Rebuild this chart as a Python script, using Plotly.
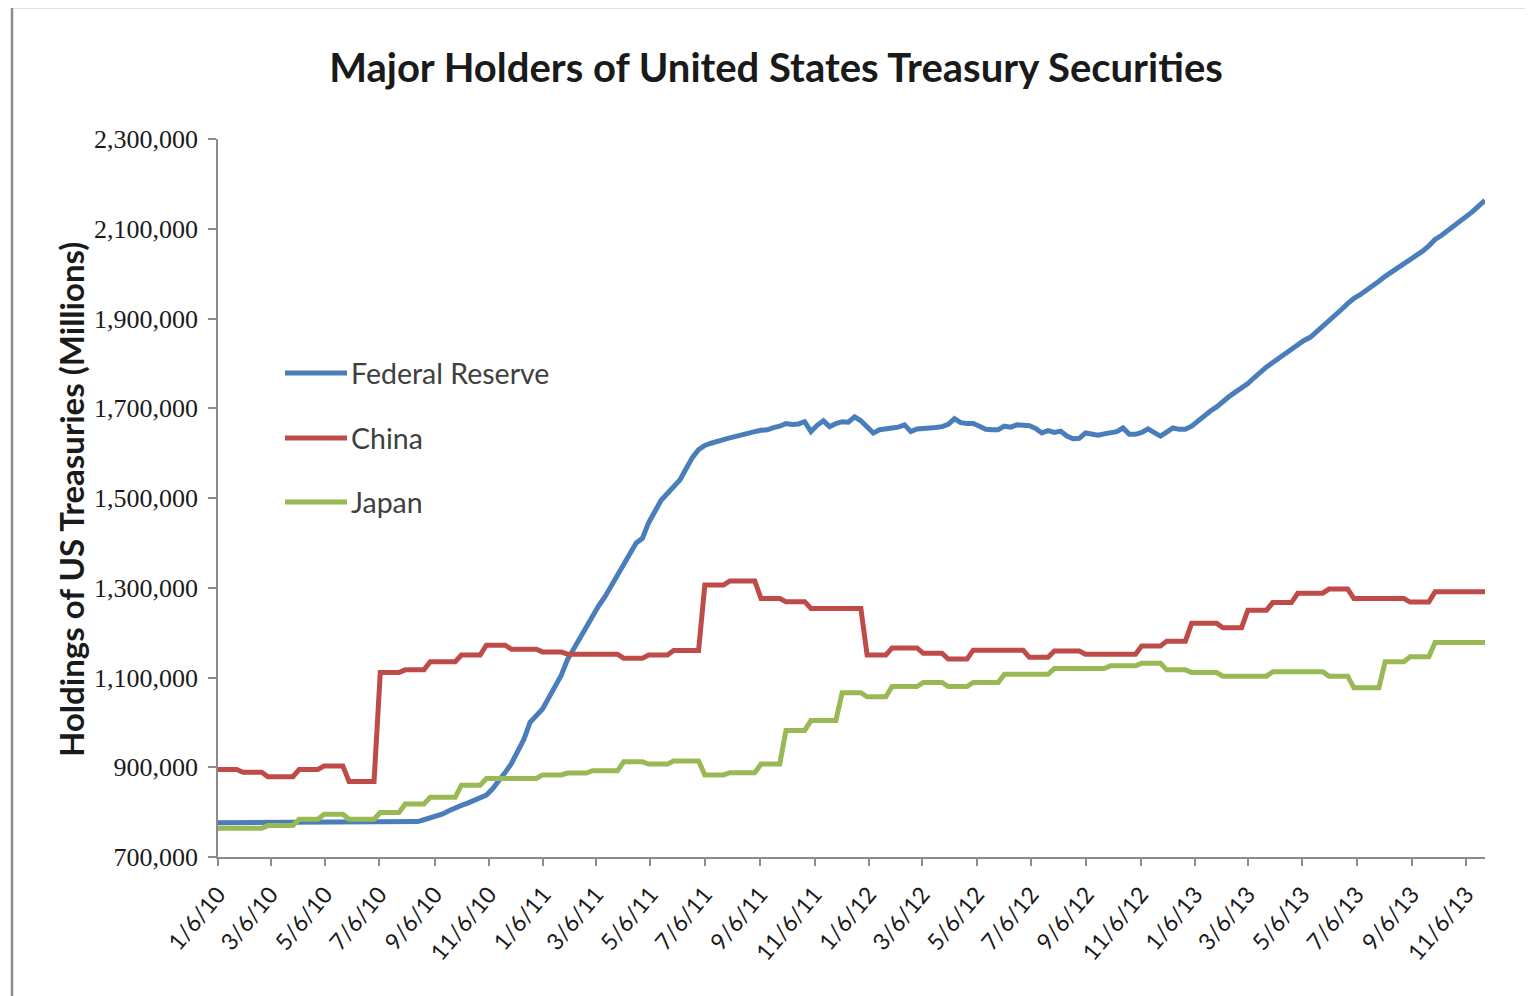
import pandas as pd
import plotly.graph_objects as go

# ---------------- data ----------------
week_start = "2010-01-06"   # weekly (Wednesday) observations
n_weeks = 204

# Federal Reserve holdings, weekly (millions USD)
fed = [
    776587, 776587, 776587, 776587, 776587, 776587, 776587, 776587, 776587, 776587,
    776587, 776587, 776587, 776587, 776587, 776587, 776587, 776587, 776587, 776587,
    776587, 776587, 776587, 776587, 776587, 776587, 776587, 776587, 776587, 776587,
    776587, 777000, 779000, 783000, 787000, 791000, 796000, 803000, 810000, 815000,
    820000, 826000, 833000, 838000, 852000, 868000, 888000, 908000, 935000, 962000,
    1000000, 1015000, 1030000, 1055000, 1080000, 1105000, 1140000, 1165000, 1190000, 1212000,
    1235000, 1260000, 1280000, 1305000, 1330000, 1350000, 1376000, 1400000, 1410000, 1445000,
    1470000, 1495000, 1510000, 1525000, 1540000, 1565000, 1590000, 1608000, 1617000, 1622000,
    1627000, 1630000, 1634000, 1638000, 1642000, 1645000, 1648000, 1651000, 1652000, 1657000,
    1660000, 1666000, 1664000, 1665000, 1670000, 1648000, 1662000, 1672000, 1659000, 1666000,
    1670000, 1669000, 1681000, 1672000, 1660000, 1645000, 1652000, 1655000, 1656000, 1658000,
    1663000, 1648000, 1654000, 1655000, 1655000, 1657000, 1659000, 1664000, 1677000, 1668000,
    1666000, 1666000, 1660000, 1653000, 1652000, 1652000, 1660000, 1658000, 1663000, 1662000,
    1661000, 1655000, 1645000, 1650000, 1646000, 1649000, 1638000, 1632000, 1633000, 1645000,
    1642000, 1640000, 1643000, 1646000, 1648000, 1656000, 1642000, 1642000, 1646000, 1654000,
    1645000, 1638000, 1647000, 1656000, 1653000, 1653000, 1660000, 1672000, 1685000, 1694000,
    1703000, 1716000, 1726000, 1736000, 1745000, 1755000, 1768000, 1781000, 1792000, 1802000,
    1812000, 1821000, 1832000, 1842000, 1851000, 1858000, 1870000, 1881000, 1893000, 1908000,
    1920000, 1933000, 1945000, 1953000, 1962000, 1972000, 1983000, 1994000, 2003000, 2013000,
    2022000, 2030000, 2039000, 2050000, 2062000, 2076000, 2085000, 2095000, 2106000, 2117000,
    2128000, 2138000, 2151000, 2163000,
]

# Monthly holdings Jan 2010 .. Nov 2013 (millions USD)
months = pd.period_range("2010-01", "2013-11", freq="M")
china = [
    895000, 889000, 879000, 895000, 903000, 868000, 1111000, 1117000, 1135000, 1150000, 1172000, 1163000,
    1157000, 1152000, 1152000, 1143000, 1150000, 1160000, 1306000, 1315000, 1276000, 1269000, 1254000, 1254000,
    1150000, 1166000, 1154000, 1141000, 1161000, 1161000, 1145000, 1159000, 1152000, 1152000, 1170000, 1181000,
    1221000, 1211000, 1250000, 1267000, 1288000, 1297000, 1276000, 1276000, 1268000, 1291000, 1291000,
]
japan = [
    764000, 764000, 770000, 784000, 795000, 784000, 799000, 818000, 833000, 860000, 875000, 875000,
    883000, 887000, 892000, 912000, 907000, 914000, 883000, 888000, 907000, 982000, 1004000, 1066000,
    1057000, 1080000, 1089000, 1080000, 1089000, 1107000, 1107000, 1120000, 1120000, 1126000, 1132000, 1117000,
    1111000, 1103000, 1103000, 1113000, 1113000, 1103000, 1077000, 1135000, 1146000, 1178000, 1178000,
]

tick_dates = pd.date_range("2010-01-06", "2013-11-06", freq=pd.DateOffset(months=2))
tick_text = [f"{d.month}/{d.day}/{d.strftime('%y')}" for d in tick_dates]

series_names = ["Federal Reserve", "China", "Japan"]
colors = ["#4A7EBB", "#BE4B48", "#98B954"]

# --------------- build ----------------
weeks = pd.date_range(week_start, periods=n_weeks, freq="7D")
china_by_month = dict(zip(months, china))
japan_by_month = dict(zip(months, japan))
china_w = [china_by_month[d.to_period("M")] for d in weeks]
japan_w = [japan_by_month[d.to_period("M")] for d in weeks]

OFF = 8                       # page body margin
W, H = 1533 - OFF, 996 - OFF
# plot-area edges in screen pixels
SL, SR, ST, SB = 218, 1485, 139, 857
L, R, T, B = SL - OFF, SR - OFF, ST - OFF, SB - OFF
pw, ph = R - L, B - T

def px(x):                     # screen x -> paper
    return (x - SL) / pw

def py(y):                     # screen y -> paper
    return (SB - y) / ph

LW = 5
fig = go.Figure()
for name, ys, c in zip(series_names, [fed, china_w, japan_w], colors):
    fig.add_trace(go.Scatter(x=weeks, y=ys, mode="lines", name=name,
                             line=dict(color=c, width=LW), showlegend=False))

axis_col = "#8C8C8C"
fig.update_layout(
    width=W, height=H,
    margin=dict(l=L, r=W - R, t=T, b=H - B, pad=0, autoexpand=False),
    paper_bgcolor="white", plot_bgcolor="white",
    title=dict(text="<b>Major Holders of United States Treasury Securities</b>",
               x=(776 - OFF) / W, y=1 - (68 - OFF) / H, xref="container", yref="container",
               xanchor="center", yanchor="middle",
               font=dict(family="Lato", size=40, color="#1a1a1a")),
    xaxis=dict(type="date", range=[weeks[0], weeks[-1]], automargin=False,
               tickvals=tick_dates, ticktext=tick_text, tickangle=-50,
               showgrid=False, zeroline=False,
               showline=True, linecolor=axis_col, linewidth=1.5,
               ticks="outside", ticklen=7, tickcolor=axis_col, tickwidth=1.5,
               ticklabelstandoff=6,
               tickfont=dict(family="Lato", size=23, color="#1a1a1a")),
    yaxis=dict(range=[700000, 2300000], tick0=700000, dtick=200000, tickformat=",",
               automargin=False,
               showgrid=False, zeroline=False,
               showline=True, linecolor=axis_col, linewidth=1.5,
               ticks="outside", ticklen=8, tickcolor=axis_col, tickwidth=1.5,
               ticklabelstandoff=5,
               tickfont=dict(family="Liberation Serif", size=26, color="#1a1a1a")),
)

# axis title
fig.add_annotation(text="<b>Holdings of US Treasuries (Millions)</b>", textangle=-90,
                   xref="paper", yref="paper", x=px(71), y=py(500),
                   xanchor="center", yanchor="middle", showarrow=False,
                   font=dict(family="Lato", size=33, color="#1a1a1a"))

# legend (inside the plot, top-left)
for name, c, yy in zip(series_names, colors, [373, 438, 502]):
    fig.add_shape(type="line", xref="paper", yref="paper",
                  x0=px(285), x1=px(347), y0=py(yy), y1=py(yy),
                  line=dict(color=c, width=LW))
    fig.add_annotation(text=name, xref="paper", yref="paper", x=px(349), y=py(yy),
                       xanchor="left", yanchor="middle", showarrow=False,
                       font=dict(family="Lato", size=28.5, color="#404040"))

# outer chart frame
fig.add_shape(type="rect", xref="paper", yref="paper",
              x0=px(12), x1=px(1560), y0=py(1020), y1=py(7),
              line=dict(color="#8C8C8C", width=2.5), layer="below")

fig.write_html("out.html")
